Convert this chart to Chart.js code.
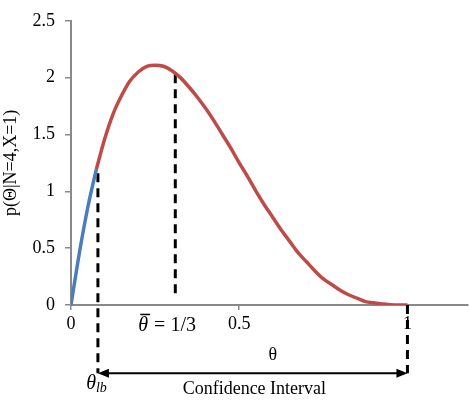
<!DOCTYPE html>
<html>
<head>
<meta charset="utf-8">
<script src="https://cdn.jsdelivr.net/npm/chart.js@4.4.1/dist/chart.umd.min.js"></script>
<style>
  html, body { margin: 0; padding: 0; background: #fff; }
  #wrap { width: 469px; height: 401px; position: relative; }
</style>
</head>
<body>
<div id="wrap"><canvas id="posteriorChart"></canvas></div>
<script>
// theta grid and density
const theta = [0, 0.025, 0.05, 0.075, 0.1, 0.125, 0.15, 0.175, 0.2, 0.225, 0.25, 0.275, 0.3, 0.325, 0.35, 0.375, 0.4,
  0.425, 0.45, 0.475, 0.5, 0.525, 0.55, 0.575, 0.6, 0.625, 0.65, 0.675, 0.7, 0.725, 0.75, 0.775, 0.8,
  0.825, 0.85, 0.875, 0.9, 0.925, 0.95, 0.975, 1];
const density = [0, 0.46, 0.86, 1.19, 1.46, 1.68, 1.84, 1.97, 2.05, 2.10, 2.11, 2.10, 2.06, 2.00, 1.92, 1.83, 1.73,
  1.62, 1.50, 1.38, 1.25, 1.13, 1.00, 0.88, 0.77, 0.66, 0.56, 0.46, 0.38, 0.30, 0.23, 0.18, 0.13,
  0.09, 0.06, 0.03, 0.02, 0.01, 0.002, 0, 0];
const splitIndex = 3; // blue part ends at theta_lb

// dashed markers
const lbTheta = 0.08, lbTop = 1.16;
const meanTheta = 0.31, meanTop = 2.03, meanBottom = 0.09;
const ciTheta = [0.08, 1];
const ciLevel = -0.6;

const xTicks = [0, 0.5, 1];
const yTicks = [0, 0.5, 1, 1.5, 2, 2.5];

const toPoints = (xs, ys) => xs.map((v, i) => ({ x: v, y: ys[i] }));

const serif = '"Liberation Serif", "Times New Roman", serif';
const axisGray = '#898989';

const annotations = {
  id: 'annotations',
  afterDatasetsDraw(chart) {
    const { ctx, scales: { x, y } } = chart;
    ctx.save();
    // confidence interval arrow
    const ay = y.getPixelForValue(ciLevel);
    const x0 = x.getPixelForValue(ciTheta[0]);
    const x1 = x.getPixelForValue(ciTheta[1]);
    ctx.strokeStyle = '#000';
    ctx.fillStyle = '#000';
    ctx.lineWidth = 2;
    ctx.beginPath();
    ctx.moveTo(x0 + 8, ay);
    ctx.lineTo(x1 - 8, ay);
    ctx.stroke();
    ctx.beginPath();
    ctx.moveTo(x0, ay); ctx.lineTo(x0 + 11, ay - 4.5); ctx.lineTo(x0 + 11, ay + 4.5); ctx.closePath();
    ctx.fill();
    ctx.beginPath();
    ctx.moveTo(x1, ay); ctx.lineTo(x1 - 11, ay - 4.5); ctx.lineTo(x1 - 11, ay + 4.5); ctx.closePath();
    ctx.fill();

    // labels
    ctx.textBaseline = 'middle';
    ctx.textAlign = 'center';
    ctx.font = '18px ' + serif;
    ctx.fillText('θ', x.getPixelForValue(0.6), y.getPixelForValue(-0.44));
    ctx.fillText('Confidence Interval', x.getPixelForValue(0.545), y.getPixelForValue(-0.74));

    // theta bar = 1/3
    const my = y.getPixelForValue(-0.18);
    ctx.textAlign = 'left';
    ctx.font = 'italic 20px ' + serif;
    const mx = x.getPixelForValue(0.2);
    ctx.fillText('θ', mx, my);
    const thw = ctx.measureText('θ').width;
    ctx.lineWidth = 1.5;
    ctx.beginPath();
    ctx.moveTo(mx + 2, my - 11);
    ctx.lineTo(mx + thw + 2, my - 11);
    ctx.stroke();
    ctx.font = '20px ' + serif;
    ctx.fillText(' = 1/3', mx + thw + 1, my);

    // theta_lb
    const lx = x.getPixelForValue(0.045);
    const ly = y.getPixelForValue(-0.69);
    ctx.font = 'italic 20px ' + serif;
    ctx.fillText('θ', lx, ly);
    const tw = ctx.measureText('θ').width;
    ctx.font = 'italic 14px ' + serif;
    ctx.fillText('lb', lx + tw, ly + 5);
    ctx.restore();
  }
};

new Chart(document.getElementById('posteriorChart'), {
  type: 'line',
  data: {
    datasets: [{
      data: toPoints(theta.slice(0, splitIndex + 1), density.slice(0, splitIndex + 1)),
      borderColor: '#4a7ebb',
      borderWidth: 3.5,
      pointRadius: 0,
      cubicInterpolationMode: 'monotone'
    }, {
      data: toPoints(theta.slice(splitIndex), density.slice(splitIndex)),
      borderColor: '#be4b48',
      borderWidth: 3.5,
      pointRadius: 0,
      cubicInterpolationMode: 'monotone'
    }, {
      data: [{ x: lbTheta, y: lbTop }, { x: lbTheta, y: ciLevel }],
      borderColor: '#000',
      borderWidth: 3,
      borderDash: [9, 6],
      pointRadius: 0,
      clip: false
    }, {
      data: [{ x: meanTheta, y: meanTop }, { x: meanTheta, y: meanBottom }],
      borderColor: '#000',
      borderWidth: 3,
      borderDash: [9, 6],
      pointRadius: 0,
      clip: false
    }, {
      data: [{ x: ciTheta[1], y: 0 }, { x: ciTheta[1], y: ciLevel }],
      borderColor: '#000',
      borderWidth: 3,
      borderDash: [9, 6],
      pointRadius: 0,
      clip: false
    }]
  },
  options: {
    responsive: true,
    maintainAspectRatio: false,
    animation: false,
    layout: { padding: { left: 0, right: 1, top: 10, bottom: 0 } },
    plugins: { legend: { display: false }, tooltip: { enabled: false } },
    scales: {
      x: {
        type: 'linear',
        min: 0,
        max: 1.18,
        afterBuildTicks: s => { s.ticks = xTicks.map(v => ({ value: v })); },
        afterFit: s => { s.height = 96; },
        border: { color: axisGray, width: 2 },
        grid: { drawOnChartArea: false, drawTicks: true, tickLength: 5, color: axisGray, lineWidth: 1.5 },
        ticks: { color: '#000', font: { family: serif, size: 18 }, padding: 3, maxRotation: 0,
          callback: v => String(v) }
      },
      y: {
        min: 0,
        max: 2.5,
        afterBuildTicks: s => { s.ticks = yTicks.map(v => ({ value: v })); },
        afterFit: s => { s.width = 71; },
        border: { color: axisGray, width: 2 },
        grid: { drawOnChartArea: false, drawTicks: true, tickLength: 6, color: axisGray, lineWidth: 1.5 },
        ticks: { color: '#000', font: { family: serif, size: 18 }, padding: 10,
          callback: v => String(v) },
        title: {
          display: true,
          text: 'p(Θ|N=4,X=1)',
          color: '#000',
          font: { family: serif, size: 18 },
          padding: { top: 0, bottom: 0 }
        }
      }
    }
  },
  plugins: [annotations]
});
</script>
</body>
</html>
